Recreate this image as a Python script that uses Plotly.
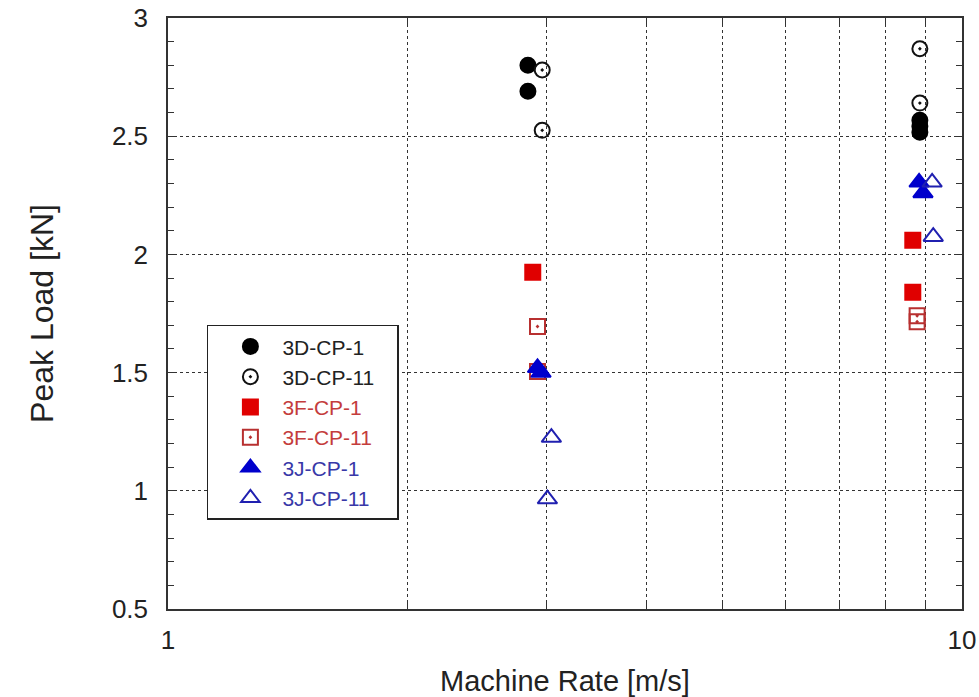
import plotly.graph_objects as go

# Data
d1_x = [2.84, 2.84, 8.85, 8.85, 8.85]
d1_y = [2.80, 2.69, 2.567, 2.542, 2.517]

d11_x = [2.96, 2.96, 8.85, 8.85]
d11_y = [2.78, 2.525, 2.87, 2.64]

f1_x = [2.88, 8.67, 8.67]
f1_y = [1.925, 2.06, 1.84]

f11_x = [2.92, 2.92, 8.78, 8.78]
f11_y = [1.695, 1.505, 1.74, 1.715]

j1_x = [2.92, 2.95, 8.83, 8.93]
j1_y = [1.52, 1.50, 2.305, 2.26]

j11_x = [3.04, 3.005, 9.17, 9.2]
j11_y = [1.225, 0.965, 2.305, 2.075]

names = ["3D-CP-1", "3D-CP-11", "3F-CP-1", "3F-CP-11", "3J-CP-1", "3J-CP-11"]
xs_all = [d1_x, d11_x, f1_x, f11_x, j1_x, j11_x]
ys_all = [d1_y, d11_y, f1_y, f11_y, j1_y, j11_y]

styles = [
    dict(symbol="circle", color="#000000", line="#000000", text="#222222", size=15),
    dict(symbol="circle-open-dot", color="#111111", line="#111111", text="#222222", size=15),
    dict(symbol="square", color="#e00000", line="#e00000", text="#c43c3c", size=15),
    dict(symbol="square-open-dot", color="#b83030", line="#b83030", text="#c43c3c", size=15),
    dict(symbol="triangle-up", color="#0000cc", line="#0000cc", text="#3838a8", size=17),
    dict(symbol="triangle-up-open", color="#2020b0", line="#2020b0", text="#3838a8", size=17),
]

xtick_vals = [1, 2, 3, 4, 5, 6, 7, 8, 9, 10]
xtick_text = ["1", "", "", "", "", "", "", "", "", "10"]
ytick_vals = [0.5, 1, 1.5, 2, 2.5, 3]
ytick_text = ["0.5", "1", "1.5", "2", "2.5", "3"]

fig = go.Figure()
for name, xs, ys, st in zip(names, xs_all, ys_all, styles):
    fig.add_trace(go.Scatter(
        x=xs, y=ys, mode="markers",
        name=f"<span style='color:{st['text']}'>{name}</span>&nbsp;&nbsp;&nbsp;",
        marker=dict(symbol=st["symbol"], color=st["color"], size=st["size"],
                    line=dict(color=st["line"], width=2)),
    ))

fig.update_layout(
    width=979, height=697,
    margin=dict(l=168, r=17, t=17.5, b=87.5),
    paper_bgcolor="white", plot_bgcolor="white",
    font=dict(family="Liberation Sans, Arial, sans-serif", size=26, color="#222222"),
    showlegend=True,
    legend=dict(
        x=0.049, y=0.481, xanchor="left", yanchor="top",
        bgcolor="white", bordercolor="#222222", borderwidth=1.5,
        font=dict(size=21),
        indentation=10, itemwidth=54,
    ),
)

fig.update_xaxes(
    type="log", range=[0, 1], automargin=False,
    tickvals=xtick_vals, ticktext=xtick_text,
    showgrid=True, gridcolor="#333333", griddash="dot", gridwidth=1,
    showline=True, linecolor="#333333", linewidth=1.5, mirror="ticks",
    ticks="inside", ticklen=6, tickcolor="#333333",
    ticklabelstandoff=7,
    title=dict(text="Machine Rate [m/s]", standoff=19, font=dict(size=29)),
    zeroline=False,
)
fig.update_yaxes(
    range=[0.5, 3], automargin=False,
    tickvals=ytick_vals, ticktext=ytick_text,
    showgrid=True, gridcolor="#333333", griddash="dot", gridwidth=1,
    showline=True, linecolor="#333333", linewidth=1.5, mirror="ticks",
    ticks="inside", ticklen=8, tickcolor="#333333",
    minor=dict(dtick=0.1, ticks="inside", ticklen=6, tickcolor="#333333", showgrid=False),
    ticklabelstandoff=13,
    title=dict(text="Peak Load [kN]", standoff=49, font=dict(size=32)),
    zeroline=False,
)

fig.write_html("out.html", config={"displayModeBar": False},
               post_script="document.body.style.margin='0px';")
